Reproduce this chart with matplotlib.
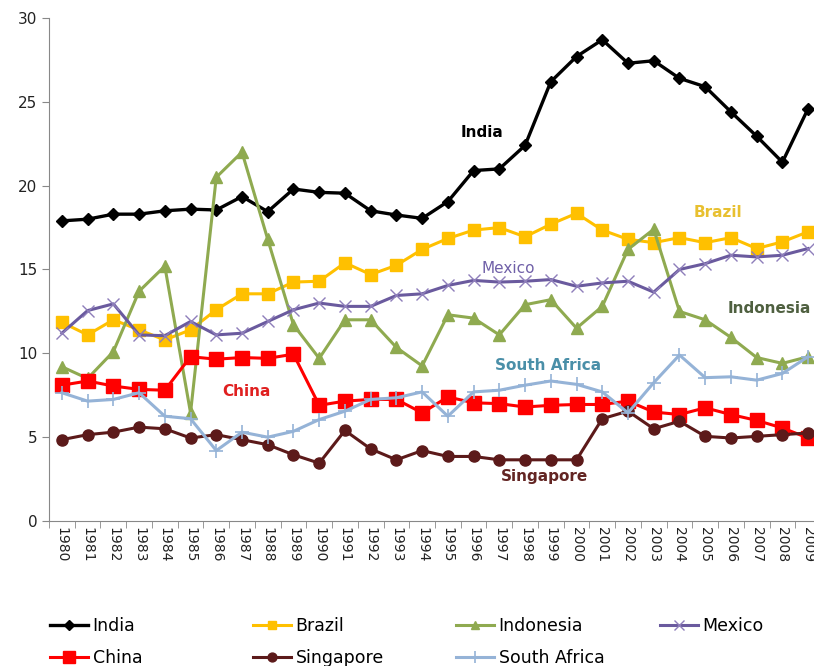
import matplotlib
matplotlib.use("Agg")
import matplotlib.pyplot as plt

# Years on the category axis
years = [str(y) for y in range(1980, 2010)]

# Series values
india = [17.9, 18.0, 18.3, 18.3, 18.5, 18.6, 18.55, 19.35, 18.45, 19.8,
         19.6, 19.55, 18.5, 18.25, 18.05, 19.05, 20.9, 21.0, 22.4, 26.2,
         27.7, 28.7, 27.3, 27.45, 26.4, 25.9, 24.4, 22.95, 21.4, 24.6]
brazil = [11.85, 11.1, 12.0, 11.4, 10.8, 11.4, 12.6, 13.55, 13.55, 14.25,
          14.3, 15.4, 14.7, 15.25, 16.2, 16.85, 17.35, 17.5, 16.95, 17.7,
          18.35, 17.35, 16.8, 16.6, 16.9, 16.6, 16.9, 16.25, 16.65, 17.25]
indonesia = [9.2, 8.5, 10.1, 13.7, 15.2, 6.45, 20.5, 22.0, 16.8, 11.7,
             9.7, 12.0, 12.0, 10.35, 9.25, 12.3, 12.1, 11.1, 12.9, 13.2,
             11.5, 12.8, 16.2, 17.4, 12.5, 12.0, 10.95, 9.75, 9.4, 9.8]
mexico = [11.2, 12.55, 12.95, 11.1, 11.05, 11.9, 11.1, 11.2, 11.9, 12.6,
          13.0, 12.8, 12.8, 13.45, 13.55, 14.05, 14.35, 14.25, 14.3, 14.4,
          14.0, 14.2, 14.3, 13.65, 15.0, 15.35, 15.85, 15.75, 15.85, 16.25]
china = [8.1, 8.35, 8.05, 7.85, 7.8, 9.8, 9.65, 9.75, 9.7, 9.95,
         6.9, 7.15, 7.25, 7.25, 6.45, 7.4, 7.05, 7.0, 6.8, 6.9,
         6.95, 6.95, 7.15, 6.5, 6.35, 6.75, 6.35, 6.0, 5.55, 4.95]
singapore = [4.85, 5.15, 5.3, 5.6, 5.5, 4.95, 5.15, 4.85, 4.55, 3.95,
             3.45, 5.4, 4.3, 3.65, 4.2, 3.85, 3.85, 3.65, 3.65, 3.65,
             3.65, 6.1, 6.55, 5.5, 5.95, 5.05, 4.95, 5.05, 5.15, 5.25]
south_africa = [7.65, 7.15, 7.25, 7.65, 6.25, 6.1, 4.2, 5.3, 5.0, 5.35,
                6.05, 6.55, 7.25, 7.35, 7.7, 6.25, 7.7, 7.8, 8.1, 8.35,
                8.15, 7.7, 6.45, 8.25, 9.9, 8.55, 8.6, 8.4, 8.8, 9.8]

x = list(range(len(years)))

fig = plt.figure(figsize=(8.14, 6.66), dpi=100)
ax = fig.add_axes([0.0602, 0.2177, 0.9484, 0.7553])

lines = []
lines.append(ax.plot(x, india, color='black', lw=2.4, marker='D', ms=6,
                     label='India')[0])
lines.append(ax.plot(x, brazil, color='#FFC000', lw=2.2, marker='s', ms=8,
                     label='Brazil')[0])
lines.append(ax.plot(x, indonesia, color='#8FAA50', lw=2.2, marker='^', ms=8,
                     label='Indonesia')[0])
lines.append(ax.plot(x, mexico, color='#6A5A9E', lw=2.2, marker='x', ms=9,
                     mew=1.0, mec='#8E7EBA', label='Mexico')[0])
lines.append(ax.plot(x, china, color='#FF0000', lw=2.2, marker='s', ms=10,
                     label='China')[0])
lines.append(ax.plot(x, singapore, color='#5C1A1A', lw=2.2, marker='o', ms=8,
                     label='Singapore')[0])
lines.append(ax.plot(x, south_africa, color='#95B3D7', lw=2.2, marker='+', ms=10,
                     mew=1.2, label='South Africa')[0])

# axis setup
ax.set_xlim(-0.5, len(years) - 0.5)
ax.set_ylim(0, 30)
ax.set_yticks(range(0, 31, 5))
ax.set_xticks(x)
ax.set_xticklabels(years, rotation=270, fontsize=10, color='#222222')
ax.set_xticks([i - 0.5 for i in range(len(years) + 1)], minor=True)
ax.tick_params(axis='x', which='major', length=0, pad=4)
ax.tick_params(axis='x', which='minor', length=5, color='#888888')
ax.tick_params(axis='y', length=5, color='#888888', labelsize=11, labelcolor='#222222')
for side in ['top', 'right']:
    ax.spines[side].set_visible(False)
for side in ['left', 'bottom']:
    ax.spines[side].set_color('#888888')

# series labels inside the plot
label_font = dict(family='DejaVu Sans', fontsize=11, ha='center', va='center')
ax.text(16.33, 23.2, 'India', color='black', fontweight='bold', **label_font)
ax.text(25.5, 18.4, 'Brazil', color='#E8C030', fontweight='bold', **label_font)
ax.text(17.33, 15.07, 'Mexico', color='#7060A8', **label_font)
ax.text(27.5, 12.68, 'Indonesia', color='#4F6040', fontweight='bold', **label_font)
ax.text(18.88, 9.3, 'South Africa', color='#4A8FA8', fontweight='bold', **label_font)
ax.text(7.19, 7.71, 'China', color='#E02020', fontweight='bold', **label_font)
ax.text(18.74, 2.64, 'Singapore', color='#632523', fontweight='bold', **label_font)

# legend: one block per column so the columns sit where the original has them
columns = [[lines[0], lines[4]], [lines[1], lines[5]], [lines[2], lines[6]], [lines[3]]]
col_x = [0.0614, 0.3108, 0.5602, 0.8108]
for handles, cx in zip(columns, col_x):
    fig.legend(handles=handles, loc='upper left', bbox_to_anchor=(cx, 0.0735),
               frameon=False, borderpad=0, borderaxespad=0, fontsize=12.5,
               handlelength=2.2, handletextpad=0.25, labelspacing=0.83,
               numpoints=1, markerscale=0.8)

fig.savefig('out.png', dpi=100)
